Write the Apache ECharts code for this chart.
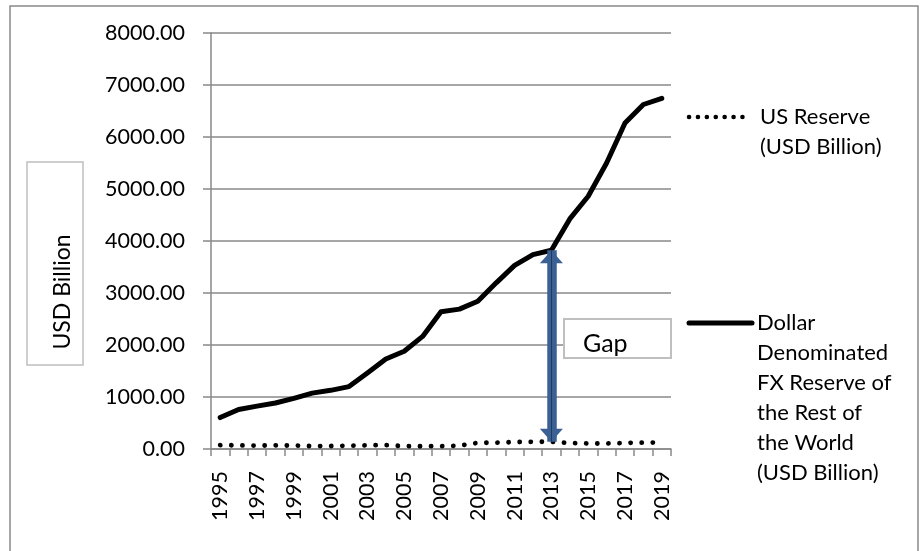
<!DOCTYPE html>
<html>
<head>
<meta charset="utf-8">
<script src="https://cdn.jsdelivr.net/npm/echarts@6/dist/echarts.min.js"></script>
<style>
  html, body { margin: 0; padding: 0; background: #ffffff; }
  #chart { width: 922px; height: 551px; }
</style>
</head>
<body>
<div id="chart"></div>
<script>
// Years on the category axis
const years = ['1995', '1996', '1997', '1998', '1999', '2000', '2001', '2002', '2003', '2004',
  '2005', '2006', '2007', '2008', '2009', '2010', '2011', '2012', '2013', '2014',
  '2015', '2016', '2017', '2018', '2019'];

// US reserve holdings, USD billion
const usReserve = [75, 70, 66, 70, 66, 56, 57, 64, 72, 74,
  56, 52, 55, 64, 118, 122, 134, 138, 140, 116,
  106, 106, 118, 122, 124];

// Dollar-denominated FX reserves held by the rest of the world, USD billion
const dollarReserveRow = [605, 760, 825, 885, 975, 1075, 1128, 1200, 1460, 1730,
  1880, 2165, 2640, 2690, 2840, 3195, 3530, 3738, 3822, 4425,
  4860, 5500, 6270, 6625, 6745];

const seriesNames = ['US Reserve (USD Billion)',
  'Dollar Denominated FX Reserve of the Rest of the World (USD Billion)'];
const legendLabels = ['US Reserve\n(USD Billion)',
  'Dollar\nDenominated\nFX Reserve of\nthe Rest of\nthe World\n(USD Billion)'];
const yAxisTitle = 'USD Billion';
const gapLabel = 'Gap';
const gapYear = '2013';

const yMin = 0, yMax = 8000, yStep = 1000;

const FONT = 'Lato, "Open Sans", sans-serif';
const AXIS_GREY = '#898989';
const BOX_GREY = '#bfbfbf';
const ARROW_BLUE = '#3b6093';

const gapIdx = years.indexOf(gapYear);

const chart = echarts.init(document.getElementById('chart'));

chart.setOption({
  animation: false,
  backgroundColor: '#ffffff',
  textStyle: { fontFamily: FONT },
  grid: { left: 211, right: 251, top: 33, bottom: 102, containLabel: false },
  xAxis: {
    type: 'category',
    data: years,
    boundaryGap: true,
    axisLine: { show: true, lineStyle: { color: AXIS_GREY, width: 1.5 } },
    axisTick: { show: true, interval: 0, length: 7, lineStyle: { color: AXIS_GREY, width: 1.5 } },
    axisLabel: {
      interval: 1, rotate: 90, margin: 22,
      color: '#000000', fontSize: 21.5, fontFamily: FONT
    },
    splitLine: { show: false }
  },
  yAxis: {
    type: 'value',
    min: yMin, max: yMax, interval: yStep,
    axisLine: { show: true, lineStyle: { color: AXIS_GREY, width: 1.5 } },
    axisTick: { show: true, length: 8, lineStyle: { color: AXIS_GREY, width: 1.5 } },
    axisLabel: {
      margin: 26, color: '#000000', fontSize: 21.5, fontFamily: FONT,
      formatter: v => v.toFixed(2)
    },
    splitLine: { show: true, lineStyle: { color: AXIS_GREY, width: 1.5 } }
  },
  series: [
    {
      name: seriesNames[0],
      type: 'line',
      data: usReserve,
      symbol: 'none',
      silent: true,
      z: 3,
      lineStyle: { color: '#000000', width: 4.8, type: [0.1, 11], cap: 'round' }
    },
    {
      name: seriesNames[1],
      type: 'line',
      data: dollarReserveRow,
      symbol: 'none',
      silent: true,
      z: 4,
      lineStyle: { color: '#000000', width: 5, cap: 'round', join: 'round' },
      markLine: {
        silent: true,
        animation: false,
        z: 6,
        label: { show: false },
        emphasis: { disabled: true },
        data: [
          [
            { coord: [gapYear, usReserve[gapIdx]], symbol: 'triangle', symbolSize: [23, 13], symbolOffset: [0, 6.5],
              lineStyle: { color: ARROW_BLUE, width: 9.5, type: 'solid' },
              itemStyle: { color: ARROW_BLUE } },
            { coord: [gapYear, dollarReserveRow[gapIdx]], symbol: 'triangle', symbolSize: [23, 13], symbolOffset: [0, 6.5] }
          ],
          [
            { coord: [gapYear, usReserve[gapIdx]], symbol: 'none',
              lineStyle: { color: '#1f3a60', width: 1, type: 'solid' } },
            { coord: [gapYear, dollarReserveRow[gapIdx]], symbol: 'none' }
          ]
        ]
      }
    }
  ],
  graphic: [
    // outer chart frame
    { type: 'rect', z: 100, silent: true,
      shape: { x: 10, y: 6, width: 908, height: 600 },
      style: { fill: null, stroke: AXIS_GREY, lineWidth: 1.5 } },
    // boxed y-axis title
    { type: 'rect', z: 100, silent: true,
      shape: { x: 27, y: 162, width: 56, height: 203 },
      style: { fill: '#ffffff', stroke: BOX_GREY, lineWidth: 1.5 } },
    { type: 'text', z: 101, silent: true,
      x: 63, y: 292, rotation: Math.PI / 2,
      style: { text: yAxisTitle, fontFamily: FONT, fontSize: 23, fill: '#000000',
        align: 'center', verticalAlign: 'middle' } },
    // "Gap" call-out box
    { type: 'rect', z: 100, silent: true,
      shape: { x: 564, y: 319, width: 107, height: 39 },
      style: { fill: '#ffffff', stroke: BOX_GREY, lineWidth: 2 } },
    { type: 'text', z: 101, silent: true,
      x: 583, y: 344,
      style: { text: gapLabel, fontFamily: FONT, fontSize: 25, fill: '#000000',
        align: 'left', verticalAlign: 'middle' } },
    // legend: dotted swatch
    { type: 'line', z: 100, silent: true,
      shape: { x1: 689, y1: 117, x2: 750, y2: 117 },
      style: { stroke: '#000000', lineWidth: 4.5, lineDash: [0.1, 8.8], lineCap: 'round' } },
    { type: 'text', z: 101, silent: true,
      x: 760, y: 102,
      style: { text: legendLabels[0], fontFamily: FONT, fontSize: 22, lineHeight: 30,
        fill: '#000000', align: 'left', verticalAlign: 'top' } },
    // legend: solid swatch
    { type: 'line', z: 100, silent: true,
      shape: { x1: 689, y1: 323, x2: 752, y2: 323 },
      style: { stroke: '#000000', lineWidth: 5, lineCap: 'round' } },
    { type: 'text', z: 101, silent: true,
      x: 757, y: 308,
      style: { text: legendLabels[1], fontFamily: FONT, fontSize: 22, lineHeight: 30,
        fill: '#000000', align: 'left', verticalAlign: 'top' } }
  ]
});
</script>
</body>
</html>
